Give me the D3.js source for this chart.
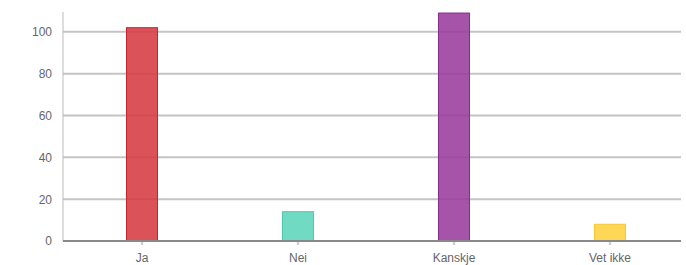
<!DOCTYPE html>
<html><head><meta charset="utf-8">
<script src="https://cdn.jsdelivr.net/npm/d3@7"></script>
<style>body{margin:0;background:#fff}text{font-family:"Liberation Sans",Arial,sans-serif}</style>
</head><body><svg id="c" width="686" height="265"></svg>
<script>
const categories = ["Ja", "Nei", "Kanskje", "Vet ikke"];
const values = [102, 14, 109, 8];
const colors = ["#d63a42", "#5dd5b9", "#9a3c9e", "#ffd23f"];
const strokes = ["#c8262e", "#4cc9ab", "#8a2a8e", "#f7c832"];
const yTicks = [0, 20, 40, 60, 80, 100];

const svg = d3.select("#c");
const mLeft = 63, mRight = 681, mTop = 12, mBottom = 241;
const x = d3.scaleBand().domain(categories).range([mLeft + 1, mLeft + 625]).paddingInner(0.795).paddingOuter(0.3975);
const y = d3.scaleLinear().domain([0, 109.5]).range([mBottom, mTop]);

// gridlines
svg.append("g").selectAll("line").data(yTicks.filter(d => d > 0)).join("line")
  .attr("x1", mLeft).attr("x2", mRight).attr("y1", d => y(d)).attr("y2", d => y(d))
  .attr("stroke", "#c4c4c4").attr("stroke-width", 2);

// y axis
const ya = svg.append("g").attr("transform", `translate(${mLeft},0)`)
  .call(d3.axisLeft(y).tickValues(yTicks).tickSize(0).tickPadding(11));
ya.select(".domain").remove();
ya.selectAll("text").attr("fill", "#666").style("font-size", "12px");
svg.append("line").attr("x1", mLeft).attr("x2", mLeft).attr("y1", mTop).attr("y2", mBottom)
  .attr("stroke", "#bbb").attr("stroke-width", 1);

// bars
svg.append("g").selectAll("rect").data(values).join("rect")
  .attr("x", (d, i) => x(categories[i]) + 0.5)
  .attr("width", x.bandwidth() - 1)
  .attr("y", d => y(d))
  .attr("height", d => mBottom - y(d))
  .attr("fill", (d, i) => colors[i]).attr("fill-opacity", 0.88)
  .attr("stroke", (d, i) => strokes[i]).attr("stroke-width", 1);

// x axis
const xa = svg.append("g").attr("transform", `translate(0,${mBottom})`)
  .call(d3.axisBottom(x).tickSize(4).tickPadding(8).tickSizeOuter(0));
xa.select(".domain").remove();
xa.selectAll(".tick line").attr("stroke", "#999");
xa.selectAll("text").attr("fill", "#666").style("font-size", "12px");
svg.append("line").attr("x1", mLeft).attr("x2", mRight).attr("y1", mBottom).attr("y2", mBottom)
  .attr("stroke", "#888").attr("stroke-width", 2);
</script></body></html>
